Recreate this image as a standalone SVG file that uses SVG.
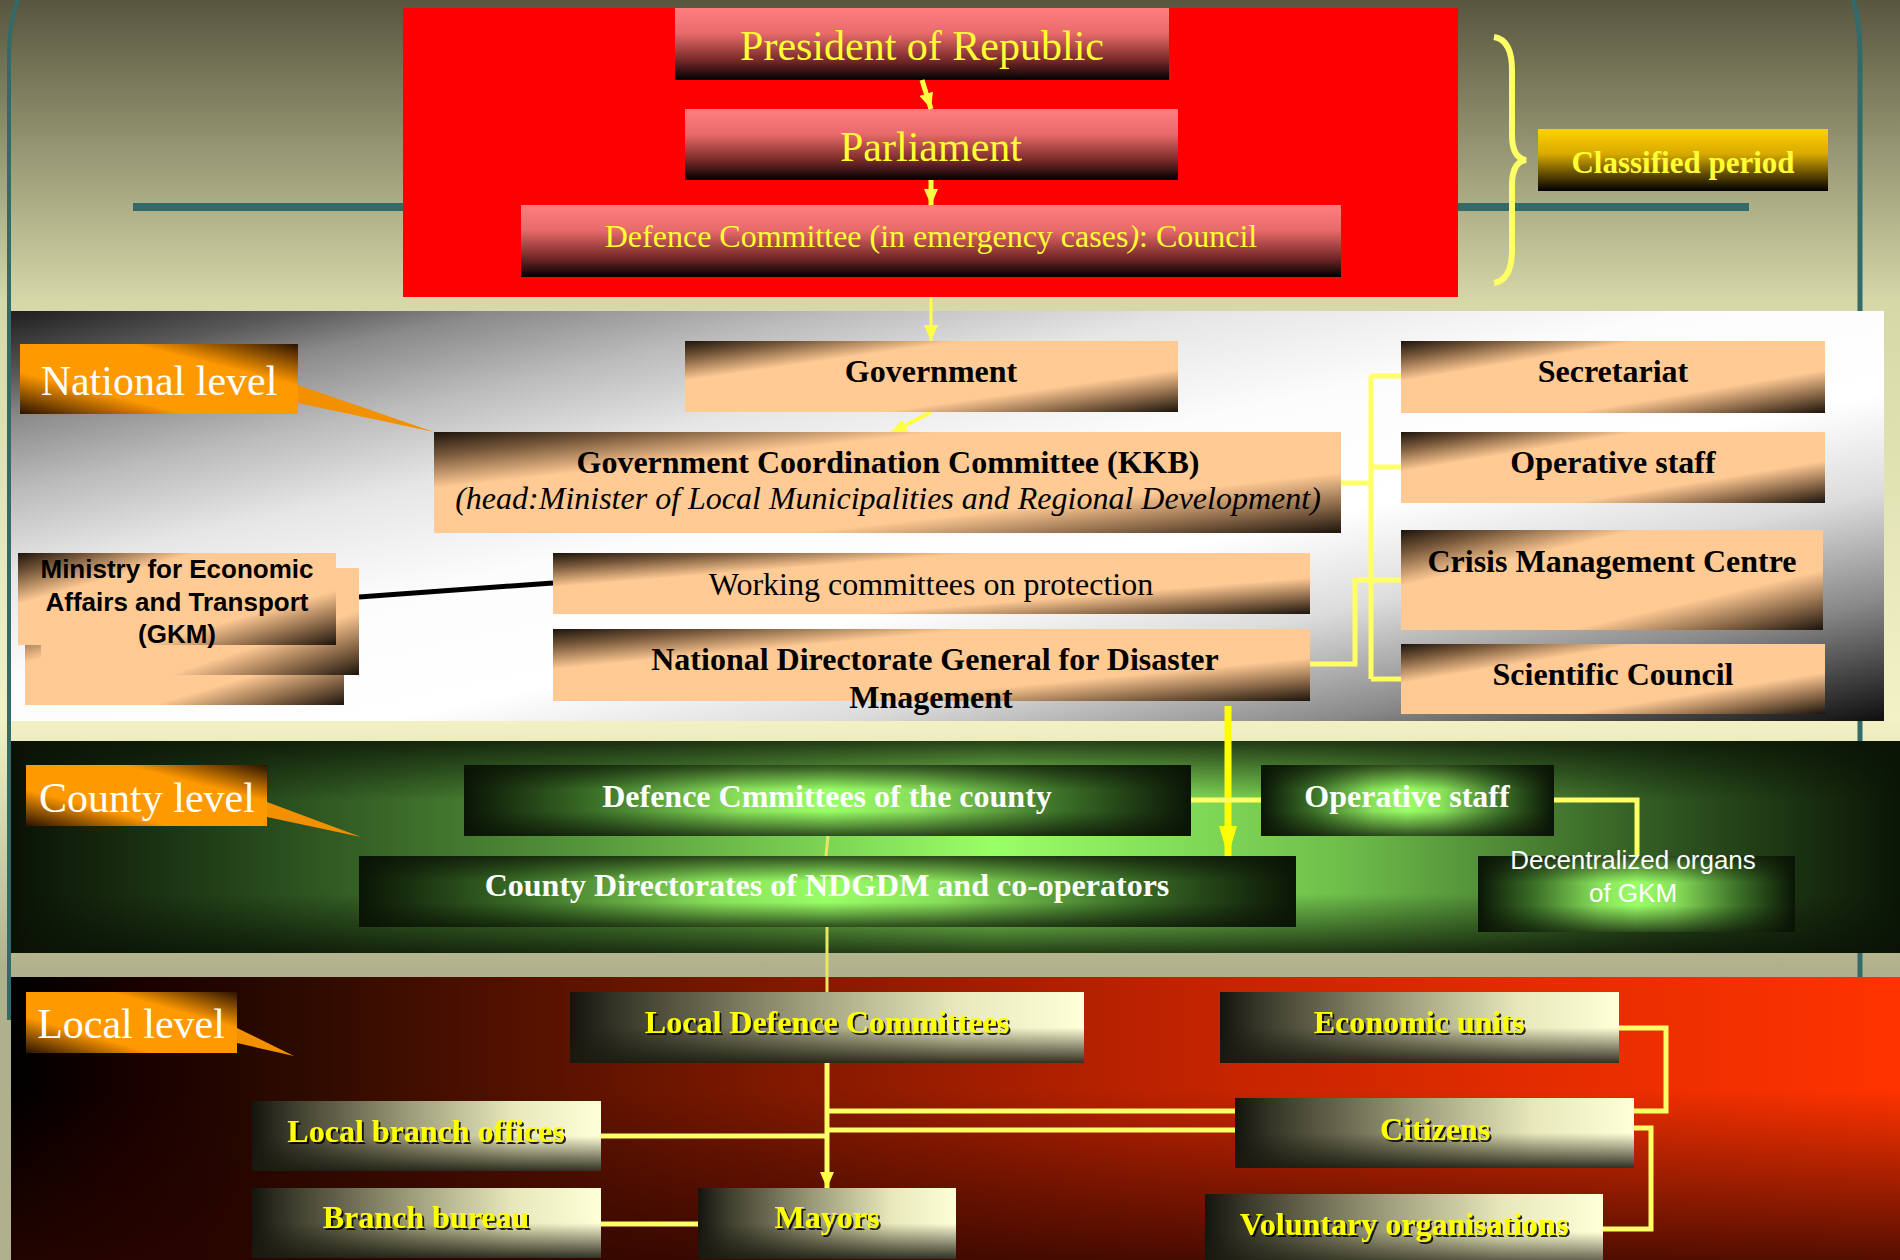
<svg xmlns="http://www.w3.org/2000/svg" width="1900" height="1260" viewBox="0 0 1900 1260">
<defs>
  <linearGradient id="bg" x1="0" y1="0" x2="0" y2="1">
    <stop offset="0" stop-color="#57563f"/>
    <stop offset="0.24" stop-color="#d6d8a8"/>
    <stop offset="0.57" stop-color="#f2f2c4"/>
    <stop offset="0.77" stop-color="#b0b08c"/>
    <stop offset="1" stop-color="#b0b08c"/>
  </linearGradient>
  <linearGradient id="natBand" x1="0" y1="0" x2="1" y2="1">
    <stop offset="0" stop-color="#1e1e1e"/>
    <stop offset="0.08" stop-color="#5a5a5a"/>
    <stop offset="0.13" stop-color="#8a8a8a"/>
    <stop offset="0.22" stop-color="#bbbbbb"/>
    <stop offset="0.32" stop-color="#e6e6e6"/>
    <stop offset="0.45" stop-color="#fcfcfc"/>
    <stop offset="0.6" stop-color="#ffffff"/>
    <stop offset="0.72" stop-color="#dcdcdc"/>
    <stop offset="0.85" stop-color="#8a8a8a"/>
    <stop offset="1" stop-color="#0e0e0e"/>
  </linearGradient>
  <linearGradient id="cntH" x1="0" y1="0" x2="1" y2="0">
    <stop offset="0" stop-color="#0a1205"/>
    <stop offset="0.12" stop-color="#24441a"/>
    <stop offset="0.3" stop-color="#54943a"/>
    <stop offset="0.52" stop-color="#99ff66"/>
    <stop offset="0.7" stop-color="#70c04c"/>
    <stop offset="0.88" stop-color="#2e5420"/>
    <stop offset="1" stop-color="#0a1505"/>
  </linearGradient>
  <linearGradient id="darkV" x1="0" y1="0" x2="0" y2="1">
    <stop offset="0" stop-color="#0a1205" stop-opacity="0.8"/>
    <stop offset="0.28" stop-color="#0a1205" stop-opacity="0"/>
    <stop offset="0.72" stop-color="#0a1205" stop-opacity="0"/>
    <stop offset="1" stop-color="#0a1205" stop-opacity="0.8"/>
  </linearGradient>
  <linearGradient id="boxV" x1="0" y1="0" x2="0" y2="1">
    <stop offset="0" stop-color="#0a1205" stop-opacity="0.75"/>
    <stop offset="0.35" stop-color="#0a1205" stop-opacity="0"/>
    <stop offset="0.65" stop-color="#0a1205" stop-opacity="0"/>
    <stop offset="1" stop-color="#0a1205" stop-opacity="0.75"/>
  </linearGradient>
  <linearGradient id="greenBox" x1="0" y1="0" x2="1" y2="0">
    <stop offset="0" stop-color="#0a1505"/>
    <stop offset="0.18" stop-color="#3c7028"/>
    <stop offset="0.38" stop-color="#88e05a"/>
    <stop offset="0.5" stop-color="#99ff66"/>
    <stop offset="0.62" stop-color="#88e05a"/>
    <stop offset="0.82" stop-color="#3c7028"/>
    <stop offset="1" stop-color="#0a1505"/>
  </linearGradient>
  <linearGradient id="localBand" x1="0" y1="0" x2="1" y2="0">
    <stop offset="0" stop-color="#000000"/>
    <stop offset="0.06" stop-color="#160000"/>
    <stop offset="0.15" stop-color="#2c0a00"/>
    <stop offset="0.35" stop-color="#6e1600"/>
    <stop offset="0.6" stop-color="#bc2200"/>
    <stop offset="0.8" stop-color="#e22c00"/>
    <stop offset="1" stop-color="#ff3300"/>
  </linearGradient>
  <linearGradient id="localV" x1="0" y1="0" x2="0" y2="1">
    <stop offset="0" stop-color="#2a0500" stop-opacity="0"/>
    <stop offset="0.4" stop-color="#2a0500" stop-opacity="0"/>
    <stop offset="1" stop-color="#2a0500" stop-opacity="0.8"/>
  </linearGradient>
  <linearGradient id="pink" x1="0" y1="0" x2="0" y2="1">
    <stop offset="0" stop-color="#ff7f7f"/>
    <stop offset="0.35" stop-color="#e86a6a"/>
    <stop offset="0.72" stop-color="#7a2a2a"/>
    <stop offset="1" stop-color="#000000"/>
  </linearGradient>
  <linearGradient id="gold" x1="0" y1="0" x2="0" y2="1">
    <stop offset="0" stop-color="#ffd200"/>
    <stop offset="0.4" stop-color="#d8aa00"/>
    <stop offset="0.75" stop-color="#5a4500"/>
    <stop offset="1" stop-color="#000000"/>
  </linearGradient>
  <linearGradient id="peach" x1="0" y1="0" x2="1" y2="1">
    <stop offset="0" stop-color="#1c140c"/>
    <stop offset="0.12" stop-color="#7a5a3c"/>
    <stop offset="0.28" stop-color="#ffca94"/>
    <stop offset="0.7" stop-color="#ffca94"/>
    <stop offset="0.86" stop-color="#8a6848"/>
    <stop offset="1" stop-color="#1c140c"/>
  </linearGradient>
  <linearGradient id="orange" x1="0" y1="1" x2="1" y2="0">
    <stop offset="0" stop-color="#2a1200"/>
    <stop offset="0.3" stop-color="#ff9900"/>
    <stop offset="0.7" stop-color="#ff9900"/>
    <stop offset="1" stop-color="#2a1200"/>
  </linearGradient>
  <linearGradient id="pale" x1="0" y1="0" x2="1" y2="0">
    <stop offset="0" stop-color="#141410"/>
    <stop offset="0.12" stop-color="#3e3e2e"/>
    <stop offset="0.45" stop-color="#9c9c7a"/>
    <stop offset="0.75" stop-color="#e8e8bc"/>
    <stop offset="1" stop-color="#ffffd8"/>
  </linearGradient>
  <linearGradient id="paleV" x1="0" y1="0" x2="0" y2="1">
    <stop offset="0" stop-color="#1a1a10" stop-opacity="0"/>
    <stop offset="0.5" stop-color="#1a1a10" stop-opacity="0"/>
    <stop offset="1" stop-color="#1a1a10" stop-opacity="0.9"/>
  </linearGradient>
  <marker id="ah" markerUnits="userSpaceOnUse" markerWidth="16" markerHeight="14" refX="16" refY="7" orient="auto">
    <path d="M0,0 L16,7 L0,14 z" fill="#ffff44"/>
  </marker>
  <marker id="ahBig" markerUnits="userSpaceOnUse" markerWidth="30" markerHeight="18" refX="30" refY="9" orient="auto">
    <path d="M0,0 L30,9 L0,18 z" fill="#ffff00"/>
  </marker>
  <filter id="shadow" x="-5%" y="-20%" width="110%" height="140%">
    <feDropShadow dx="2" dy="2" stdDeviation="0.6" flood-color="#000000" flood-opacity="0.85"/>
  </filter>
  <style>
    .serif{font-family:"Liberation Serif","Times New Roman",serif;}
    .sans{font-family:"Liberation Sans",Arial,sans-serif;}
    .top{fill:#ffff33;text-anchor:middle;}
    .blk{fill:#000;font-weight:bold;font-size:32px;text-anchor:middle;}
    .lvl{fill:#fff;font-size:42px;text-anchor:middle;}
    .cty{fill:#fff;font-weight:bold;font-size:32px;text-anchor:middle;}
    .loc{fill:#ffff00;font-weight:bold;font-size:32px;text-anchor:middle;filter:url(#shadow);}
    .ylw{fill:none;stroke:#ffff66;stroke-width:5;}
  </style>
</defs>

<!-- background -->
<rect x="0" y="0" width="1900" height="1260" fill="url(#bg)"/>
<path d="M18,0 Q9,20 9,60 L9,1020" fill="none" stroke="#336a6a" stroke-width="4"/>
<path d="M1853,0 Q1860,20 1860,60 L1860,977" fill="none" stroke="#336a6a" stroke-width="5"/>
<rect x="133" y="203" width="1616" height="8" fill="#336a6a"/>

<!-- bands -->
<rect x="11" y="311" width="1873" height="410" fill="url(#natBand)"/>
<rect x="11" y="741" width="1889" height="212" fill="url(#cntH)"/>
<rect x="11" y="741" width="1889" height="212" fill="url(#darkV)"/>
<rect x="11" y="977" width="1889" height="283" fill="url(#localBand)"/>
<rect x="11" y="977" width="1889" height="283" fill="url(#localV)"/>

<!-- red block -->
<rect x="403" y="8" width="1055" height="289" fill="#ff0000"/>

<!-- brace -->
<path d="M1494,37 Q1512,40 1512,70 L1512,135 Q1512,158 1526,160 Q1512,162 1512,185 L1512,250 Q1512,280 1494,283" fill="none" stroke="#ffff66" stroke-width="6"/>

<g id="president">
  <rect x="675" y="8" width="494" height="72" fill="url(#pink)"/>
  <text class="serif top" x="922" y="60" font-size="42">President of Republic</text>
</g>
<g id="parliament">
  <rect x="685" y="109" width="493" height="71" fill="url(#pink)"/>
  <text class="serif top" x="931" y="161" font-size="42">Parliament</text>
</g>
<g id="defence-committee">
  <rect x="521" y="205" width="820" height="72" fill="url(#pink)"/>
  <text class="serif top" x="931" y="247" font-size="32">Defence Committee (in emergency cases<tspan font-style="italic">)</tspan>: Council</text>
</g>
<g id="classified">
  <rect x="1538" y="129" width="290" height="62" fill="url(#gold)"/>
  <text class="serif top" x="1683" y="173" font-size="31" font-weight="bold">Classified period</text>
</g>

<!-- level labels -->
<g id="national-level">
  <polygon points="298,385 298,403 434,432" fill="#f39000"/>
  <rect x="20" y="344" width="278" height="70" fill="url(#orange)"/>
  <text class="serif lvl" x="159" y="395">National level</text>
</g>
<g id="county-level">
  <polygon points="267,802 267,817 361,837" fill="#f39000"/>
  <rect x="26" y="765" width="241" height="61" fill="url(#orange)"/>
  <text class="serif lvl" x="147" y="812">County level</text>
</g>
<g id="local-level">
  <polygon points="237,1028 237,1043 294,1056" fill="#f39000"/>
  <rect x="26" y="992" width="211" height="61" fill="url(#orange)"/>
  <text class="serif lvl" x="131" y="1038">Local level</text>
</g>

<!-- connectors -->
<g id="connectors">
  <line x1="922" y1="80" x2="931" y2="109" stroke="#ffff44" stroke-width="5" marker-end="url(#ah)"/>
  <line x1="931" y1="180" x2="931" y2="205" stroke="#ffff44" stroke-width="5" marker-end="url(#ah)"/>
  <line x1="931" y1="297" x2="931" y2="341" stroke="#ffff44" stroke-width="3" marker-end="url(#ah)"/>
  <line x1="931" y1="412" x2="891" y2="433" stroke="#ffff44" stroke-width="4" marker-end="url(#ah)"/>
  <path d="M1341,483 H1371" class="ylw"/>
  <path d="M1371,376 V679" class="ylw" stroke-width="4"/>
  <path d="M1371,376 H1401" class="ylw"/>
  <path d="M1371,467 H1401" class="ylw" stroke-width="3"/>
  <path d="M1371,679 H1401" class="ylw"/>
  <path d="M1310,664 H1355 V580 H1401" class="ylw"/>
  <line x1="359" y1="597" x2="553" y2="583" stroke="#000" stroke-width="5"/>
  <line x1="1228" y1="706" x2="1228" y2="856" stroke="#ffff00" stroke-width="7" marker-end="url(#ahBig)"/>
  <path d="M1191,800 H1261" class="ylw"/>
  <path d="M1554,800 H1637 V856" class="ylw"/>
  <line x1="828" y1="836" x2="826" y2="856" stroke="#e8e860" stroke-width="3"/>
  <line x1="827" y1="927" x2="827" y2="992" stroke="#e8e860" stroke-width="3"/>
  <line x1="827" y1="1063" x2="827" y2="1188" stroke="#ffff66" stroke-width="5" marker-end="url(#ah)"/>
  <path d="M827,1111 H1235" class="ylw"/>
  <path d="M827,1130 H1235" class="ylw" stroke-width="9"/>
  <path d="M601,1136 H827" class="ylw"/>
  <path d="M601,1224 H698" class="ylw"/>
  <path d="M1619,1028 H1666 V1111 H1634" class="ylw"/>
  <path d="M1634,1128 H1651 V1229 H1603" class="ylw" stroke-width="4"/>
</g>

<!-- national nodes -->
<g id="government">
  <rect x="685" y="341" width="493" height="71" fill="url(#peach)"/>
  <text class="serif blk" x="931" y="382">Government</text>
</g>
<g id="kkb">
  <rect x="434" y="432" width="907" height="101" fill="url(#peach)"/>
  <text class="serif blk" x="888" y="473">Government Coordination Committee (KKB)</text>
  <text class="serif" x="888" y="509" font-size="32" font-style="italic" text-anchor="middle" fill="#000">(head:Minister of Local Municipalities and Regional Development)</text>
</g>
<g id="ministry">
  <rect x="25" y="610" width="319" height="95" fill="url(#peach)"/>
  <rect x="41" y="568" width="318" height="107" fill="url(#peach)"/>
  <rect x="18" y="553" width="318" height="92" fill="url(#peach)"/>
  <text class="sans" font-weight="bold" font-size="26" text-anchor="middle" fill="#000"><tspan x="177" y="578">Ministry for Economic</tspan><tspan x="177" y="611">Affairs and Transport</tspan><tspan x="177" y="643">(GKM)</tspan></text>
</g>
<g id="working-committees">
  <rect x="553" y="553" width="757" height="61" fill="url(#peach)"/>
  <text class="serif" x="931" y="595" font-size="32" text-anchor="middle" fill="#000">Working committees on protection</text>
</g>
<g id="ndgdm">
  <rect x="553" y="629" width="757" height="72" fill="url(#peach)"/>
  <text class="serif blk"><tspan x="935" y="670">National Directorate General for Disaster</tspan><tspan x="931" y="708">Mnagement</tspan></text>
</g>
<g id="secretariat">
  <rect x="1401" y="341" width="424" height="72" fill="url(#peach)"/>
  <text class="serif blk" x="1613" y="382">Secretariat</text>
</g>
<g id="operative-staff-national">
  <rect x="1401" y="432" width="424" height="71" fill="url(#peach)"/>
  <text class="serif blk" x="1613" y="473">Operative staff</text>
</g>
<g id="crisis-centre">
  <rect x="1401" y="530" width="422" height="100" fill="url(#peach)"/>
  <text class="serif blk" x="1612" y="572">Crisis Management Centre</text>
</g>
<g id="scientific-council">
  <rect x="1401" y="644" width="424" height="70" fill="url(#peach)"/>
  <text class="serif blk" x="1613" y="685">Scientific Council</text>
</g>

<!-- county nodes -->
<g id="county-defence">
  <rect x="464" y="765" width="727" height="71" fill="url(#greenBox)"/>
  <rect x="464" y="765" width="727" height="71" fill="url(#boxV)"/>
  <text class="serif cty" x="827" y="807">Defence Cmmittees of the county</text>
</g>
<g id="county-directorates">
  <rect x="359" y="856" width="937" height="71" fill="url(#greenBox)"/>
  <rect x="359" y="856" width="937" height="71" fill="url(#boxV)"/>
  <text class="serif cty" x="827" y="896">County Directorates of NDGDM and co-operators</text>
</g>
<g id="operative-staff-county">
  <rect x="1261" y="765" width="293" height="71" fill="url(#greenBox)"/>
  <rect x="1261" y="765" width="293" height="71" fill="url(#boxV)"/>
  <text class="serif cty" x="1407" y="807">Operative staff</text>
</g>
<g id="decentralized-organs">
  <rect x="1478" y="856" width="317" height="76" fill="url(#greenBox)"/>
  <rect x="1478" y="856" width="317" height="76" fill="url(#boxV)"/>
  <text class="sans" font-size="26" fill="#fff" text-anchor="middle"><tspan x="1633" y="869">Decentralized organs</tspan><tspan x="1633" y="902">of GKM</tspan></text>
</g>

<!-- local nodes -->
<g id="local-defence">
  <rect x="570" y="992" width="514" height="71" fill="url(#pale)"/>
  <rect x="570" y="992" width="514" height="71" fill="url(#paleV)"/>
  <text class="serif loc" x="827" y="1033">Local Defence Committees</text>
</g>
<g id="economic-units">
  <rect x="1220" y="992" width="399" height="71" fill="url(#pale)"/>
  <rect x="1220" y="992" width="399" height="71" fill="url(#paleV)"/>
  <text class="serif loc" x="1419" y="1033">Economic units</text>
</g>
<g id="local-branch-offices">
  <rect x="252" y="1101" width="349" height="70" fill="url(#pale)"/>
  <rect x="252" y="1101" width="349" height="70" fill="url(#paleV)"/>
  <text class="serif loc" x="426" y="1142">Local branch offices</text>
</g>
<g id="citizens">
  <rect x="1235" y="1098" width="399" height="70" fill="url(#pale)"/>
  <rect x="1235" y="1098" width="399" height="70" fill="url(#paleV)"/>
  <text class="serif loc" x="1435" y="1140">Citizens</text>
</g>
<g id="branch-bureau">
  <rect x="252" y="1188" width="349" height="70" fill="url(#pale)"/>
  <rect x="252" y="1188" width="349" height="70" fill="url(#paleV)"/>
  <text class="serif loc" x="426" y="1228">Branch bureau</text>
</g>
<g id="mayors">
  <rect x="698" y="1188" width="258" height="71" fill="url(#pale)"/>
  <rect x="698" y="1188" width="258" height="71" fill="url(#paleV)"/>
  <text class="serif loc" x="827" y="1228">Mayors</text>
</g>
<g id="voluntary-organisations">
  <rect x="1205" y="1194" width="398" height="76" fill="url(#pale)"/>
  <rect x="1205" y="1194" width="398" height="76" fill="url(#paleV)"/>
  <text class="serif loc" x="1404" y="1235">Voluntary organisations</text>
</g>
</svg>
